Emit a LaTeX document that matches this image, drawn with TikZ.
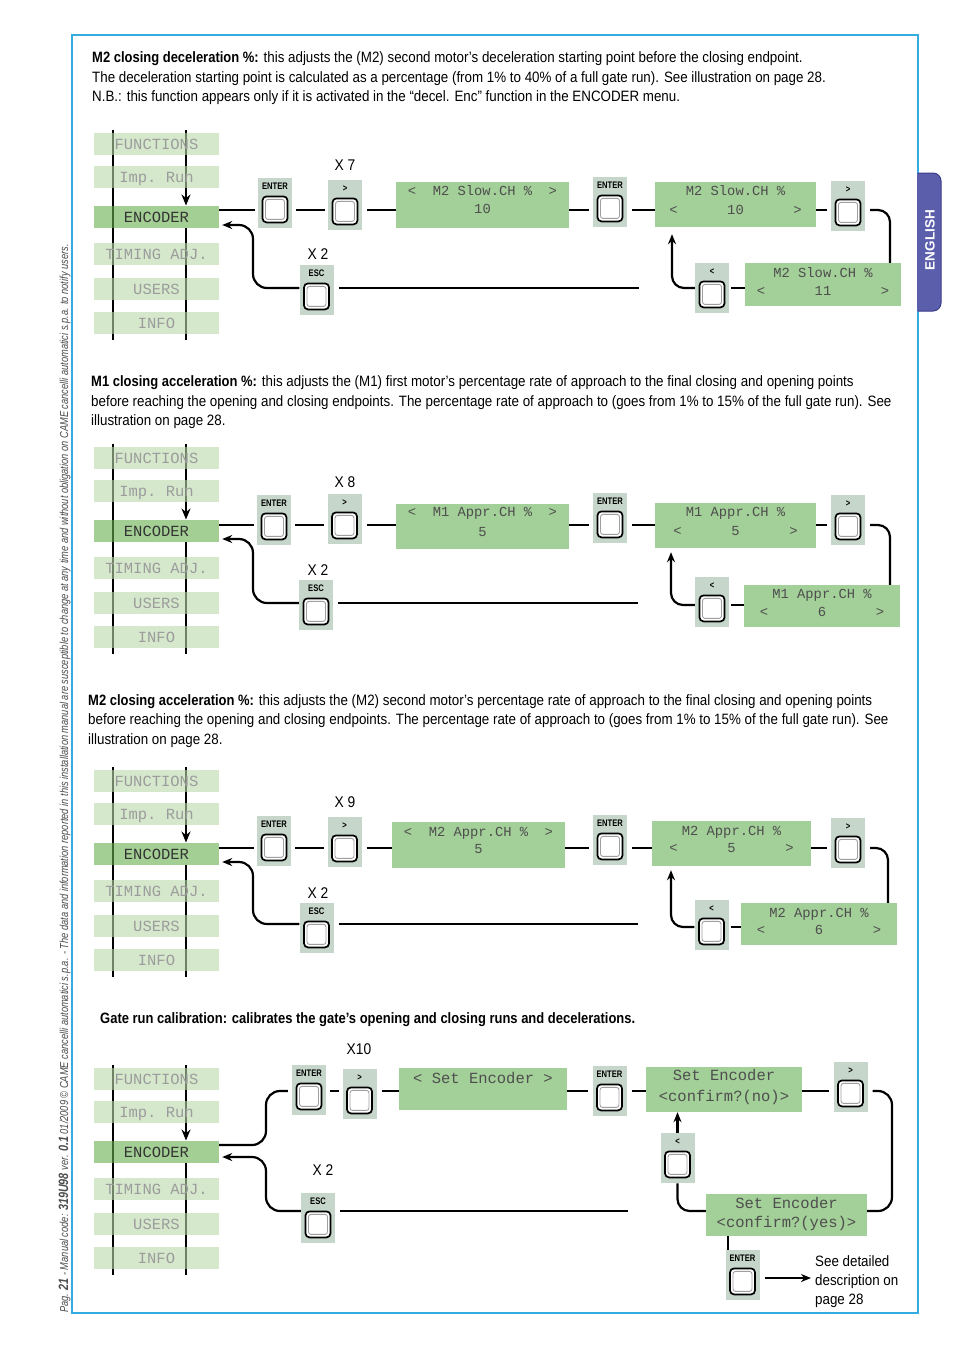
\documentclass[tikz,border=0pt]{standalone}
\usepackage{fontspec}
\setmainfont{Liberation Sans}
\newfontfamily\cond[FakeStretch=0.89,BoldFeatures={FakeStretch=0.865}]{Liberation Sans}
\newfontfamily\btnfont[FakeStretch=0.8]{Liberation Sans}
\newfontfamily\sidefont[FakeStretch=0.8]{Liberation Sans}
\newfontfamily\lcdf{Liberation Mono}
\usetikzlibrary{arrows.meta,backgrounds}
\definecolor{frameblue}{HTML}{35ACE0}
\definecolor{tabfill}{HTML}{5B5EAA}
\definecolor{tabdraw}{HTML}{3A3C8A}
\definecolor{menufade}{RGB}{185,217,170}
\definecolor{menuenc}{RGB}{102,175,78}
\definecolor{lcdg}{HTML}{A3CF98}
\definecolor{btnback}{HTML}{C6D6CA}
\definecolor{lcdtext}{HTML}{4E4E4E}
\definecolor{fadetext}{HTML}{9C9C9C}
\newcommand\lcdsp[1]{\hbox to \dimexpr0.6em*#1\relax{}}
\newcommand\btn[4]{%
  \node[btnbg] (#1) at (#2,#3) {};
  \node[btnlbl] (#1l) at ([yshift=-8pt]#1.north) {#4};
  \node[keyout] (#1k) at ([yshift=19pt]#1.south) {};
  \node[keyin] (#1ki) at (#1k) {};
}
\newcommand\menucol[2]{%
  \node[menubox] (#1f) at (156.5,#2-62) {FUNCTIONS};
  \node[menubox] (#1i) at (156.5,#2-29) {Imp.\lcdsp{1}Run};
  \node[encbox] (#1e) at (156.5,#2+11) {ENCODER};
  \node[menubox] (#1t) at (156.5,#2+48) {TIMING\lcdsp{1}ADJ.};
  \node[menubox] (#1u) at (156.5,#2+83) {USERS};
  \node[menubox] (#1n) at (156.5,#2+117) {INFO};
  \begin{pgfonlayer}{background}
    \draw[menuline] (113,#2-76) -- (113,#2+134);
    \draw[menuline,-{Stealth[length=11pt,width=9pt]}] (186,#2-76) -- (186,#2-0.5);
    \draw[menuline] (186,#2+22) -- (186,#2+134);
  \end{pgfonlayer}
}
\begin{document}
\begin{tikzpicture}[x=1pt,y=-1pt,
  menubox/.style={fill=menufade, fill opacity=0.6, text opacity=1, minimum width=125pt, minimum height=22pt, inner sep=0pt,
     font=\lcdf\fontsize{15.5}{16}\selectfont, text=fadetext, text height=10pt, text depth=0pt},
  encbox/.style={menubox, fill=menuenc, text=black!80},
  menuline/.style={line width=2.2pt, black},
  lcdbox/.style={fill=lcdg, inner sep=0pt},
  lcdtxt/.style={font=\lcdf\fontsize{13.8}{14}\selectfont, text=lcdtext, inner sep=0pt, text height=9pt, text depth=0pt},
  lcdtxtL/.style={lcdtxt, font=\lcdf\fontsize{15.5}{16}\selectfont, text height=10.5pt},
  btnbg/.style={fill=btnback, minimum width=34pt, minimum height=50pt, inner sep=0pt, anchor=north},
  keyout/.style={draw=black, line width=1.7pt, fill=white, rounded corners=4pt, minimum width=25pt, minimum height=26pt, inner sep=0pt},
  keyin/.style={draw=gray!75, line width=0.9pt, rounded corners=2.5pt, minimum width=19pt, minimum height=20pt, inner sep=0pt},
  btnlbl/.style={font=\btnfont\bfseries\fontsize{9.5}{9.5}\selectfont, inner sep=0pt, text height=6.5pt, text depth=0pt},
  conn/.style={line width=2.2pt, black},
  arr/.style={conn, -{Stealth[length=10pt,width=8pt]}},
  xlbl/.style={font=\cond\fontsize{15.5}{15.5}\selectfont, inner sep=0pt, text height=11pt, text depth=0pt},
  body/.style={font=\cond\fontsize{15}{17}\selectfont, anchor=base west, inner sep=0pt}
]
\useasboundingbox (0,0) rectangle (954,1350);
\begin{pgfonlayer}{background}
\fill[white] (0,0) rectangle (954,1350);
\end{pgfonlayer}

% frame
\draw[frameblue, line width=1.6pt] (72,35) rectangle (918,1313);
% English tab
\fill[tabfill] (917,173) [rounded corners=8pt] -- (941,173) -- (941,311) [sharp corners] -- (917,311) -- cycle;
\draw[tabdraw, line width=1pt] (918,173) [rounded corners=8pt] -- (941,173) -- (941,311) [sharp corners] -- (918,311);
\node[rotate=90, text=white, font=\bfseries\fontsize{13.5}{13.5}\selectfont, inner sep=0pt] (eng) at (930,240) {ENGLISH};
% side text
\node[rotate=90, anchor=base west, inner sep=0pt, text=black!70, font=\sidefont\itshape\fontsize{11.6}{11.6}\selectfont] (side) at (68,1313)
  {Pag. {\bfseries\fontsize{13.5}{13.5}\selectfont 21} - Manual code: {\bfseries\fontsize{13.5}{13.5}\selectfont 319U98} ver. {\bfseries\fontsize{13.5}{13.5}\selectfont 0.1} 01/2009 © CAME cancelli automatici s.p.a. - The data and information reported in this installation manual are susceptible to change at any time and without obligation on CAME cancelli automatici s.p.a. to notify users.};

% ================= Section 1 =================
\node[body] (t1a) at (92,62) {\textbf{M2 closing deceleration \%:} this adjusts the (M2) second motor’s deceleration starting point before the closing endpoint.};
\node[body] (t1b) at (92,82) {The deceleration starting point is calculated as a percentage (from 1\% to 40\% of a full gate run). See illustration on page 28.};
\node[body] (t1c) at (92,101) {N.B.: this function appears only if it is activated in the “decel. Enc” function in the ENCODER menu.};

\menucol{a}{206}
\btn{a1}{275}{178}{ENTER}
\btn{a2}{345}{180}{>}
\node[xlbl] (ax1) at (345,165) {X 7};
\node[lcdbox, minimum width=173pt, minimum height=46pt] (aL1) at (482.5,205) {};
\node[lcdtxt] (aL1a) at (482.5,191) {<\lcdsp{2}M2\lcdsp{1}Slow.CH\lcdsp{1}\%\lcdsp{2}>};
\node[lcdtxt] (aL1b) at (482.5,209) {10};
\btn{a3}{610}{177}{ENTER}
\node[lcdbox, minimum width=161pt, minimum height=45pt] (aL2) at (735.5,204.5) {};
\node[lcdtxt] (aL2a) at (735.5,191) {M2\lcdsp{1}Slow.CH\lcdsp{1}\%};
\node[lcdtxt] (aL2b) at (735.5,210) {<\lcdsp{6}10\lcdsp{6}>};
\btn{a4}{848}{181}{>}
\node[lcdbox, minimum width=156pt, minimum height=43pt] (aL3) at (823,284.5) {};
\node[lcdtxt] (aL3a) at (823,273) {M2\lcdsp{1}Slow.CH\lcdsp{1}\%};
\node[lcdtxt] (aL3b) at (823,291) {<\lcdsp{6}11\lcdsp{6}>};
\btn{a5}{712}{263}{<}
\btn{a6}{316.5}{265}{ESC}
\node[xlbl] (ax2) at (318,254) {X 2};
\coordinate (aY) at (0,210); \coordinate (aZ) at (0,288); \coordinate (aQ) at (0,288); \coordinate (aR) at (0,225);
\coordinate (aV) at (890,0); \coordinate (aU) at (672,0); \coordinate (aW) at (253,0); \coordinate (aEnd) at (639,288);
\draw[conn, shorten >=3pt] (ae.east |- aY) -- (a1.west |- aY);
\draw[conn, shorten <=4pt, shorten >=3pt] (a1.east |- aY) -- (a2.west |- aY);
\draw[conn, shorten <=5pt] (a2.east |- aY) -- (aL1.west |- aY);
\draw[conn, shorten >=4pt] (aL1.east |- aY) -- (a3.west |- aY);
\draw[conn, shorten <=5pt] (a3.east |- aY) -- (aL2.west |- aY);
\draw[conn, shorten >=4pt] (aL2.east |- aY) -- (a4.west |- aY);
\draw[conn, rounded corners=12pt, shorten <=5pt] (a4.east |- aY) -- (aV |- aY) -- (aV |- aL3.north);
\draw[conn, shorten >=2pt] (aL3.west |- aZ) -- (a5.east |- aZ);
\draw[arr, rounded corners=12pt, shorten >=7pt] (a5.west |- aZ) -- (aU |- aZ) -- (aU |- aL2.south);
\draw[conn, shorten <=5pt] (a6.east |- aQ) -- (aEnd);
\draw[arr, rounded corners=14pt, shorten >=3pt] (a6.west |- aQ) -- (aW |- aQ) -- (aW |- aR) -- (ae.east |- aR);

% ================= Section 2 =================
\node[body] (t2a) at (91,386) {\textbf{M1 closing acceleration \%:} this adjusts the (M1) first motor’s percentage rate of approach to the final closing and opening points};
\node[body] (t2b) at (91,406) {before reaching the opening and closing endpoints. The percentage rate of approach to (goes from 1\% to 15\% of the full gate run). See};
\node[body] (t2c) at (91,425) {illustration on page 28.};

\menucol{b}{520}
\btn{b1}{274}{495}{ENTER}
\btn{b2}{344.5}{494}{>}
\node[xlbl] (bx1) at (345,482) {X 8};
\node[lcdbox, minimum width=173pt, minimum height=45pt] (bL1) at (482.5,526.5) {};
\node[lcdtxt] (bL1a) at (482.5,512) {<\lcdsp{2}M1\lcdsp{1}Appr.CH\lcdsp{1}\%\lcdsp{2}>};
\node[lcdtxt] (bL1b) at (482.5,532) {5};
\btn{b3}{610}{493}{ENTER}
\node[lcdbox, minimum width=161pt, minimum height=45pt] (bL2) at (735.5,525.5) {};
\node[lcdtxt] (bL2a) at (735.5,512) {M1\lcdsp{1}Appr.CH\lcdsp{1}\%};
\node[lcdtxt] (bL2b) at (735.5,531) {<\lcdsp{6}5\lcdsp{6}>};
\btn{b4}{848}{495}{>}
\node[lcdbox, minimum width=156pt, minimum height=42pt] (bL3) at (822,606) {};
\node[lcdtxt] (bL3a) at (822,594) {M1\lcdsp{1}Appr.CH\lcdsp{1}\%};
\node[lcdtxt] (bL3b) at (822,612) {<\lcdsp{6}6\lcdsp{6}>};
\btn{b5}{712}{577}{<}
\btn{b6}{316}{580}{ESC}
\node[xlbl] (bx2) at (318,570) {X 2};
\coordinate (bY) at (0,525); \coordinate (bZ) at (0,605); \coordinate (bQ) at (0,603); \coordinate (bR) at (0,539);
\coordinate (bV) at (890,0); \coordinate (bU) at (671,0); \coordinate (bW) at (253,0); \coordinate (bEnd) at (638,603);
\draw[conn, shorten >=3pt] (be.east |- bY) -- (b1.west |- bY);
\draw[conn, shorten <=4pt, shorten >=3pt] (b1.east |- bY) -- (b2.west |- bY);
\draw[conn, shorten <=5pt] (b2.east |- bY) -- (bL1.west |- bY);
\draw[conn, shorten >=4pt] (bL1.east |- bY) -- (b3.west |- bY);
\draw[conn, shorten <=5pt] (b3.east |- bY) -- (bL2.west |- bY);
\draw[conn, shorten >=4pt] (bL2.east |- bY) -- (b4.west |- bY);
\draw[conn, rounded corners=12pt, shorten <=5pt] (b4.east |- bY) -- (bV |- bY) -- (bV |- bL3.north);
\draw[conn, shorten >=2pt] (bL3.west |- bZ) -- (b5.east |- bZ);
\draw[arr, rounded corners=12pt, shorten >=4pt] (b5.west |- bZ) -- (bU |- bZ) -- (bU |- bL2.south);
\draw[conn, shorten <=5pt] (b6.east |- bQ) -- (bEnd);
\draw[arr, rounded corners=14pt, shorten >=3pt] (b6.west |- bQ) -- (bW |- bQ) -- (bW |- bR) -- (be.east |- bR);

% ================= Section 3 =================
\node[body] (t3a) at (88,705) {\textbf{M2 closing acceleration \%:} this adjusts the (M2) second motor’s percentage rate of approach to the final closing and opening points};
\node[body] (t3b) at (88,724) {before reaching the opening and closing endpoints. The percentage rate of approach to (goes from 1\% to 15\% of the full gate run). See};
\node[body] (t3c) at (88,744) {illustration on page 28.};

\menucol{c}{843}
\btn{c1}{274}{816}{ENTER}
\btn{c2}{344.5}{817}{>}
\node[xlbl] (cx1) at (345,802) {X 9};
\node[lcdbox, minimum width=173pt, minimum height=46pt] (cL1) at (478.5,845) {};
\node[lcdtxt] (cL1a) at (478.5,832) {<\lcdsp{2}M2\lcdsp{1}Appr.CH\lcdsp{1}\%\lcdsp{2}>};
\node[lcdtxt] (cL1b) at (478.5,849) {5};
\btn{c3}{610}{815}{ENTER}
\node[lcdbox, minimum width=159pt, minimum height=45pt] (cL2) at (731.5,843.5) {};
\node[lcdtxt] (cL2a) at (731.5,831) {M2\lcdsp{1}Appr.CH\lcdsp{1}\%};
\node[lcdtxt] (cL2b) at (731.5,848) {<\lcdsp{6}5\lcdsp{6}>};
\btn{c4}{848}{818}{>}
\node[lcdbox, minimum width=156pt, minimum height=42pt] (cL3) at (819,924) {};
\node[lcdtxt] (cL3a) at (819,913) {M2\lcdsp{1}Appr.CH\lcdsp{1}\%};
\node[lcdtxt] (cL3b) at (819,930) {<\lcdsp{6}6\lcdsp{6}>};
\btn{c5}{711.5}{900}{<}
\btn{c6}{316.5}{903}{ESC}
\node[xlbl] (cx2) at (318,893) {X 2};
\coordinate (cY) at (0,848); \coordinate (cZ) at (0,927); \coordinate (cQ) at (0,924); \coordinate (cR) at (0,862);
\coordinate (cV) at (888,0); \coordinate (cU) at (671,0); \coordinate (cW) at (253,0); \coordinate (cEnd) at (638,924);
\draw[conn, shorten >=3pt] (ce.east |- cY) -- (c1.west |- cY);
\draw[conn, shorten <=4pt, shorten >=3pt] (c1.east |- cY) -- (c2.west |- cY);
\draw[conn, shorten <=5pt] (c2.east |- cY) -- (cL1.west |- cY);
\draw[conn, shorten >=4pt] (cL1.east |- cY) -- (c3.west |- cY);
\draw[conn, shorten <=5pt] (c3.east |- cY) -- (cL2.west |- cY);
\draw[conn, shorten >=4pt] (cL2.east |- cY) -- (c4.west |- cY);
\draw[conn, rounded corners=12pt, shorten <=5pt] (c4.east |- cY) -- (cV |- cY) -- (cV |- cL3.north);
\draw[conn, shorten >=2pt] (cL3.west |- cZ) -- (c5.east |- cZ);
\draw[arr, rounded corners=12pt, shorten >=4pt] (c5.west |- cZ) -- (cU |- cZ) -- (cU |- cL2.south);
\draw[conn, shorten <=5pt] (c6.east |- cQ) -- (cEnd);
\draw[arr, rounded corners=14pt, shorten >=3pt] (c6.west |- cQ) -- (cW |- cQ) -- (cW |- cR) -- (ce.east |- cR);

% ================= Section 4 =================
\node[body] (t4a) at (100,1023) {\textbf{Gate run calibration: calibrates the gate’s opening and closing runs and decelerations.}};

\menucol{d}{1141}
\btn{d1}{309}{1065}{ENTER}
\btn{d2}{359.5}{1069}{>}
\node[xlbl] (dx1) at (359,1049) {X10};
\node[lcdbox, minimum width=168pt, minimum height=42pt] (dL1) at (483,1089) {};
\node[lcdtxtL] (dL1a) at (483,1078) {<\lcdsp{1}Set\lcdsp{1}Encoder\lcdsp{1}>};
\btn{d3}{609.5}{1066}{ENTER}
\node[lcdbox, minimum width=156pt, minimum height=45pt] (dL2) at (724,1089.5) {};
\node[lcdtxtL] (dL2a) at (724,1075) {Set\lcdsp{1}Encoder};
\node[lcdtxtL] (dL2b) at (724,1096) {<confirm?(no)>};
\btn{d4}{850.5}{1062}{>}
\node[lcdbox, minimum width=161pt, minimum height=42pt] (dL3) at (786.5,1215) {};
\node[lcdtxtL] (dL3a) at (786.5,1203) {Set\lcdsp{1}Encoder};
\node[lcdtxtL] (dL3b) at (786.5,1222) {<confirm?(yes)>};
\btn{d5}{677.5}{1133}{<}
\btn{d6}{318}{1193}{ESC}
\node[xlbl] (dx2) at (323,1170) {X 2};
\btn{d7}{742.5}{1250}{ENTER}
\node[body, anchor=north west, align=left, font=\cond\fontsize{15}{19}\selectfont] (dtx) at (815,1255) {See detailed\\description on\\page 28};
\coordinate (dA) at (0,1145); \coordinate (dY) at (0,1091); \coordinate (dB) at (0,1211); \coordinate (dQ) at (0,1211);
\coordinate (dR) at (0,1157); \coordinate (dW) at (266,0); \coordinate (dV) at (892,0); \coordinate (dX) at (728,0);
\coordinate (dK) at (0,1278); \coordinate (dEnd) at (628,1211);
\draw[conn, rounded corners=14pt, shorten >=4pt] (de.east |- dA) -- (dW |- dA) -- (dW |- dY) -- (d1.west |- dY);
\draw[conn, shorten <=4pt, shorten >=3pt] (d1.east |- dY) -- (d2.west |- dY);
\draw[conn, shorten <=5pt] (d2.east |- dY) -- (dL1.west |- dY);
\draw[conn, shorten >=4pt] (dL1.east |- dY) -- (d3.west |- dY);
\draw[conn, shorten <=5pt] (d3.east |- dY) -- (dL2.west |- dY);
\draw[conn, shorten >=4pt] (dL2.east |- dY) -- (d4.west |- dY);
\draw[conn, rounded corners=14pt, shorten <=5pt] (d4.east |- dY) -- (dV |- dY) -- (dV |- dB) -- (dL3.east |- dB);
\draw[arr] (d5.north) -- (d5.north |- dL2.south);
\draw[conn, rounded corners=12pt] (dL3.west |- dB) -- (d5.south |- dB) -- (d5.south);
\draw[conn] (dL3.south -| dX) -- (d7.north -| dX);
\draw[arr, shorten <=5pt, shorten >=4pt] (d7.east |- dK) -- (dtx.west |- dK);
\draw[conn, shorten <=5pt] (d6.east |- dQ) -- (dEnd);
\draw[arr, rounded corners=14pt, shorten >=3pt] (d6.west |- dQ) -- (dW |- dQ) -- (dW |- dR) -- (de.east |- dR);
\end{tikzpicture}
\end{document}
